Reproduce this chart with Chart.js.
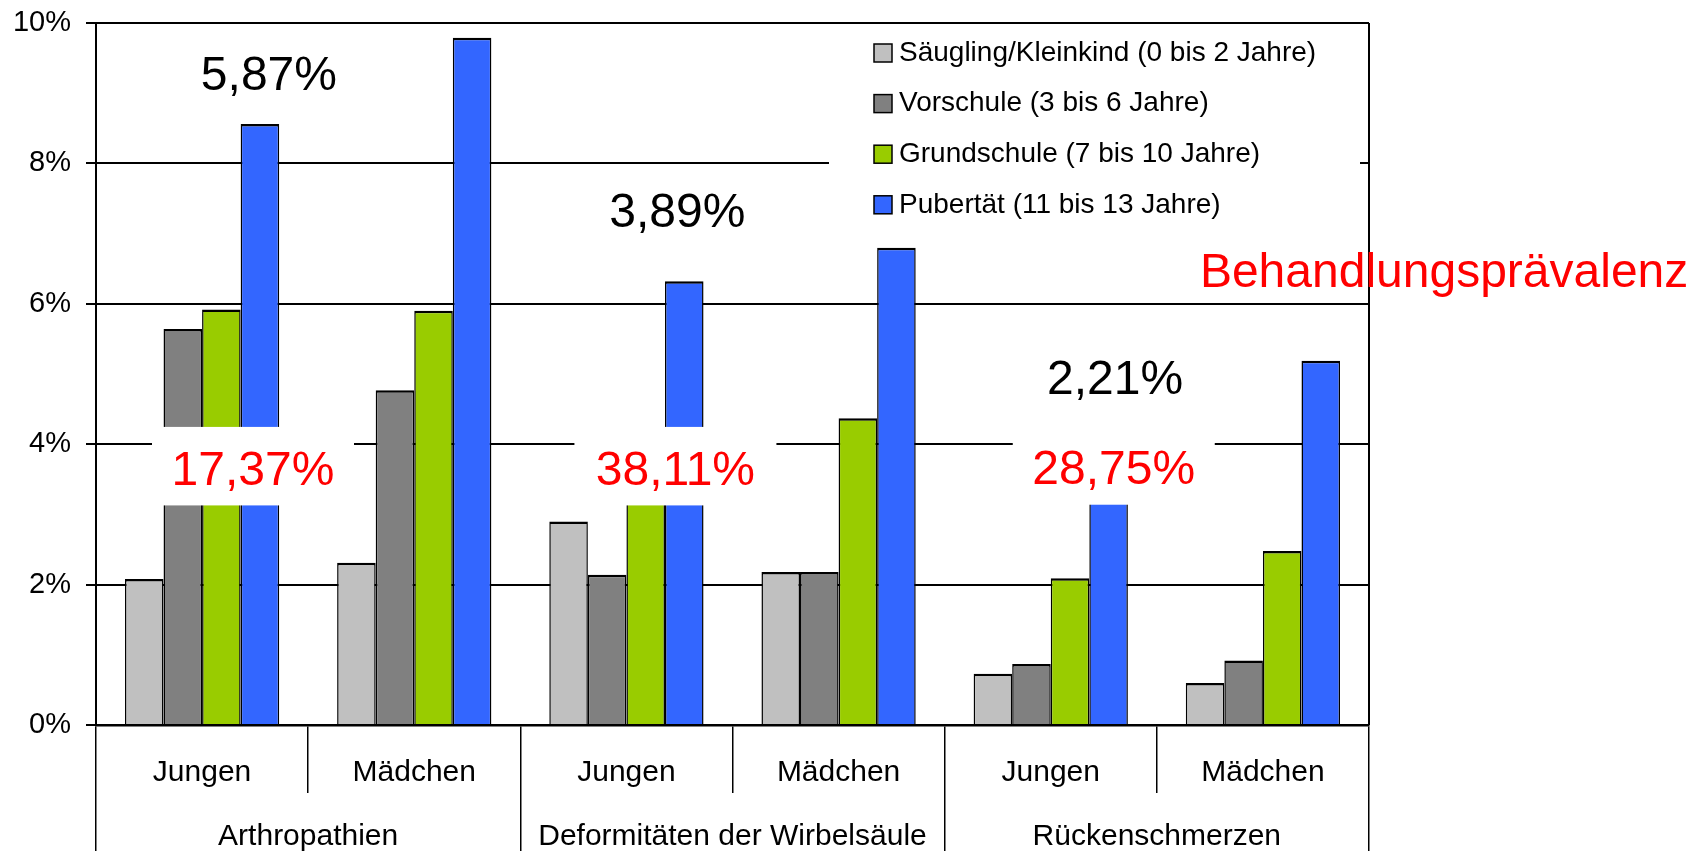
<!DOCTYPE html>
<html lang="de">
<head>
<meta charset="utf-8">
<title>Behandlungsprävalenz</title>
<script src="https://cdn.jsdelivr.net/npm/chart.js@4.4.1/dist/chart.umd.min.js"></script>
<style>
  html, body { margin: 0; padding: 0; background: #fff; }
  #box { width: 1701px; height: 851px; }
</style>
</head>
<body>
<div id="box"><canvas id="chart"></canvas></div>
<script>
// --- data ---
const categories = ["Jungen", "Mädchen", "Jungen", "Mädchen", "Jungen", "Mädchen"];
const groups = ["Arthropathien", "Deformitäten der Wirbelsäule", "Rückenschmerzen"];
const seriesNames = [
  "Säugling/Kleinkind (0 bis 2 Jahre)",
  "Vorschule (3 bis 6 Jahre)",
  "Grundschule (7 bis 10 Jahre)",
  "Pubertät (11 bis 13 Jahre)",
];
const saeugling = [2.08, 2.31, 2.90, 2.18, 0.73, 0.60];
const vorschule = [5.64, 4.77, 2.14, 2.18, 0.87, 0.92];
const grundschule = [5.92, 5.90, 3.70, 4.37, 2.09, 2.48];
const pubertaet = [8.56, 9.79, 6.32, 6.80, 4.00, 5.19];
const yTicks = [0, 2, 4, 6, 8, 10];

// prevalence per diagnosis (black) and share (red); x in category units, y = baseline in %
const prevalenceLabels = ["5,87%", "3,89%", "2,21%"];
const prevalenceX = [0.315, 2.24, 4.303];
const prevalenceY = [9.04, 7.10, 4.72];
const shareLabels = ["17,37%", "38,11%", "28,75%"];
const shareX = [0.24, 2.231, 4.297];
const shareY = [3.42, 3.42, 3.43];
const sideTitle = "Behandlungsprävalenz";

const colors = ["#C0C0C0", "#808080", "#99CC00", "#3366FF"];
const FONT = "'Liberation Sans', Arial, Helvetica, sans-serif";
Chart.defaults.font.family = FONT;
Chart.defaults.color = "#000";

const overlay = {
  id: "overlay",
  afterDatasetsDraw(chart) {
    const { ctx, chartArea: area } = chart;
    const xs = chart.scales.x;
    const ys = chart.scales.y;
    ctx.save();

    // right frame line of the plot area
    ctx.strokeStyle = "#000";
    ctx.lineWidth = 2;
    ctx.beginPath();
    ctx.moveTo(area.right, area.top);
    ctx.lineTo(area.right, area.bottom);
    ctx.stroke();

    // legend (white panel over the grid)
    const lx = area.right - 495;
    ctx.fillStyle = "#fff";
    ctx.fillRect(area.right - 540, area.top + 4, 531, 205);
    ctx.font = `28px ${FONT}`;
    ctx.textBaseline = "middle";
    ctx.textAlign = "left";
    chart.data.datasets.forEach((ds, i) => {
      const cy = area.top + 30 + i * 50.6;
      ctx.fillStyle = ds.backgroundColor;
      ctx.fillRect(lx, cy - 9, 18, 18);
      ctx.strokeStyle = "#000";
      ctx.lineWidth = 1.5;
      ctx.strokeRect(lx, cy - 9, 18, 18);
      ctx.fillStyle = "#000";
      ctx.fillText(ds.label, lx + 25, cy);
    });

    ctx.font = `48px ${FONT}`;
    ctx.textAlign = "center";
    ctx.textBaseline = "alphabetic";

    // black prevalence numbers
    prevalenceLabels.forEach((t, i) => {
      ctx.fillStyle = "#000";
      ctx.fillText(t, xs.getPixelForValue(prevalenceX[i]), ys.getPixelForValue(prevalenceY[i]));
    });

    // red shares on white boxes
    shareLabels.forEach((t, i) => {
      const cx = xs.getPixelForValue(shareX[i]);
      const by = ys.getPixelForValue(shareY[i]);
      ctx.fillStyle = "#fff";
      ctx.fillRect(cx - 101, by - 58, 202, 78.5);
      ctx.fillStyle = "#FF0000";
      ctx.fillText(t, cx, by);
    });

    ctx.textAlign = "left";
    ctx.fillStyle = "#FF0000";
    ctx.fillText(sideTitle, xs.getPixelForValue(4.703), ys.getPixelForValue(6.24));
    ctx.restore();
  },
};

const series = [saeugling, vorschule, grundschule, pubertaet];

new Chart(document.getElementById("chart"), {
  type: "bar",
  data: {
    labels: categories,
    datasets: series.map((values, i) => ({
      label: seriesNames[i],
      data: values,
      backgroundColor: colors[i],
      borderColor: "#000",
      borderWidth: { top: 2.5, left: 1.5, right: 1.5, bottom: 0 },
      borderSkipped: "start",
      barPercentage: 1.0,
      categoryPercentage: 0.727,
      xAxisID: "x",
    })),
  },
  options: {
    responsive: true,
    maintainAspectRatio: false,
    animation: false,
    layout: { padding: { top: 23, right: 332, left: 0, bottom: 0 } },
    plugins: {
      legend: { display: false },
      tooltip: { enabled: false },
    },
    scales: {
      y: {
        min: 0,
        max: 10,
        afterBuildTicks: (s) => { s.ticks = yTicks.map((v) => ({ value: v })); },
        afterFit: (s) => { s.width = 96; s.paddingTop = 0; },
        ticks: {
          callback: (v) => v + "%",
          font: { size: 29 },
          color: "#000",
          padding: 15,
        },
        grid: { color: "#000", lineWidth: 2, tickLength: 10 },
        border: { display: true, color: "#000", width: 2 },
      },
      x: {
        weight: 0,
        offset: true,
        afterFit: (s) => { s.height = 68; },
        ticks: { font: { size: 30 }, color: "#000", padding: -38.5, maxRotation: 0, autoSkip: false },
        grid: { offset: true, drawOnChartArea: false, drawTicks: true, tickLength: 68, color: "#000", lineWidth: 1.5 },
        border: { display: true, color: "#000", width: 2.5 },
      },
      x2: {
        type: "category",
        position: "bottom",
        weight: 1,
        labels: groups,
        offset: true,
        afterFit: (s) => { s.height = 58; },
        ticks: { font: { size: 30 }, color: "#000", padding: -32.5, maxRotation: 0, autoSkip: false },
        grid: { offset: true, drawOnChartArea: false, drawTicks: true, tickLength: 58, color: "#000", lineWidth: 1.5 },
        border: { display: false },
      },
    },
  },
  plugins: [overlay],
});
</script>
</body>
</html>
